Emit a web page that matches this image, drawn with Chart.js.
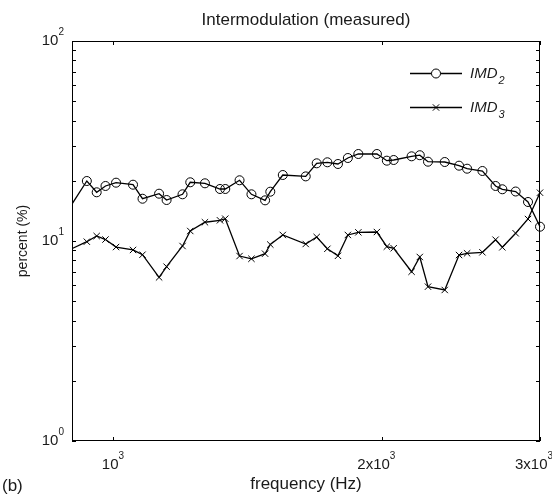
<!DOCTYPE html>
<html>
<head>
<meta charset="utf-8">
<script src="https://cdn.jsdelivr.net/npm/chart.js@4.4.1/dist/chart.umd.min.js"></script>
<style>
  html, body { margin: 0; padding: 0; background: #fff; }
</style>
</head>
<body>
<canvas id="chart" width="552" height="497"></canvas>
<script>
// Data (frequency in Hz, values in percent)
const frequencies = [888, 935, 959, 981, 1008, 1053, 1079, 1126, 1148, 1196, 1220, 1267, 1317, 1335, 1385, 1428, 1479, 1499, 1548, 1642,
  1689, 1736, 1784, 1830, 1880, 1972, 2023, 2059, 2156, 2202, 2249, 2348, 2436, 2487, 2587, 2676, 2723, 2818, 2909, 3000];
const imd2 = [13.96, 19.95, 17.52, 18.84, 19.57, 19.12, 16.27, 17.24, 16.03, 17.12, 19.66, 19.43, 18.2, 18.2, 20.12, 17.12, 15.97, 17.64, 21.38, 21.04,
  24.46, 24.75, 24.27, 26.0, 27.23, 27.23, 25.21, 25.41, 26.51, 26.85, 24.92, 24.83, 23.8, 22.99, 22.39, 18.84, 18.14, 17.68, 15.67, 11.79];
const imd3 = [8.91, 9.92, 10.59, 10.17, 9.33, 9.02, 8.54, 6.58, 7.44, 9.44, 11.22, 12.41, 12.69, 12.93, 8.41, 8.15, 8.64, 9.6, 10.72, 9.66,
  10.47, 9.14, 8.43, 10.72, 11.05, 11.09, 9.37, 9.2, 7.02, 8.32, 5.91, 5.69, 8.51, 8.68, 8.78, 10.15, 9.3, 10.93, 12.88, 17.44];

// Axis ticks and their labels (base, exponent)
const xTicks = [1000, 2000, 3000];
const xTickLabels = [['10', '3'], ['2x10', '3'], ['3x10', '3']];
const yTicks = [1, 10, 100];
const yTickLabels = [['10', '0'], ['10', '1'], ['10', '2']];
const seriesNames = [['IMD', '2'], ['IMD', '3']];
const titleText = 'Intermodulation (measured)';

const FONT = '"Liberation Sans", Arial, Helvetica, sans-serif';
const INK = '#1a1a1a';

// Frame, inward ticks, tick labels, legend, title and panel tag (MATLAB look)
const matlabAxes = {
  id: 'matlabAxes',
  afterDatasetsDraw(chart) {
    const { ctx, chartArea: a, scales: { x, y } } = chart;
    ctx.save();
    ctx.strokeStyle = '#000';
    ctx.lineWidth = 1;
    ctx.strokeRect(a.left + 0.5, a.top + 0.5, a.right - a.left - 1, a.bottom - a.top - 1);

    // y ticks: minor 2..9 per decade plus the major ones
    const tl = 4;
    ctx.beginPath();
    [1, 10].forEach(d => {
      for (let k = 1; k <= 9; k++) {
        const py = Math.round(y.getPixelForValue(k * d)) + 0.5;
        ctx.moveTo(a.left, py); ctx.lineTo(a.left + tl, py);
        ctx.moveTo(a.right, py); ctx.lineTo(a.right - tl, py);
      }
    });
    xTicks.forEach(v => {
      const px = Math.round(x.getPixelForValue(v)) + 0.5;
      ctx.moveTo(px, a.bottom); ctx.lineTo(px, a.bottom - tl);
      ctx.moveTo(px, a.top); ctx.lineTo(px, a.top + tl);
    });
    ctx.stroke();

    ctx.fillStyle = INK;
    ctx.textBaseline = 'middle';
    ctx.textAlign = 'left';
    const base = '15px ' + FONT, sup = '10px ' + FONT;

    // y tick labels
    yTicks.forEach((v, i) => {
      const py = y.getPixelForValue(v);
      const [b, e] = yTickLabels[i];
      ctx.font = sup; const we = ctx.measureText(e).width;
      ctx.font = base; const wb = ctx.measureText(b).width;
      const right = a.left - 8;
      ctx.fillText(b, right - we - wb, py);
      ctx.font = sup; ctx.fillText(e, right - we, py - 9);
    });

    // x tick labels
    xTicks.forEach((v, i) => {
      const px = x.getPixelForValue(v);
      const [b, e] = xTickLabels[i];
      ctx.font = sup; const we = ctx.measureText(e).width;
      ctx.font = base; const wb = ctx.measureText(b).width;
      const left = px - (wb + we) / 2 - (i > 0 ? 6 : 0);
      ctx.fillText(b, left, a.bottom + 24);
      ctx.font = sup; ctx.fillText(e, left + wb, a.bottom + 15);
    });

    // legend inside the axes, top right
    const rows = [a.top + 32, a.top + 66];
    chart.data.datasets.forEach((ds, i) => {
      const ly = rows[i] + 0.5;
      ctx.strokeStyle = '#000';
      ctx.lineWidth = ds.borderWidth;
      ctx.beginPath(); ctx.moveTo(410, ly); ctx.lineTo(462, ly); ctx.stroke();
      ctx.lineWidth = 1;
      ctx.fillStyle = '#fff';
      Chart.helpers.drawPoint(ctx, { pointStyle: ds.pointStyle, radius: ds.pointRadius, borderWidth: 1 }, 436, ly);
      ctx.fillStyle = INK;
      const [n, s] = seriesNames[i];
      ctx.font = 'italic 15px ' + FONT;
      ctx.fillText(n, 470, ly);
      const wn = ctx.measureText(n).width;
      ctx.font = 'italic 11px ' + FONT;
      ctx.fillText(s, 470 + wn + 1, ly + 7);
    });

    // title centred over the axes
    ctx.textAlign = 'center';
    ctx.font = '17px ' + FONT;
    ctx.fillText(titleText, (a.left + a.right) / 2, 20);

    // panel tag
    ctx.textAlign = 'left';
    ctx.font = '17px ' + FONT;
    ctx.fillText('(b)', 2, 486);
    ctx.restore();
  }
};

const clipArea = { left: 0, top: 0, right: 8, bottom: 0 };

new Chart(document.getElementById('chart'), {
  type: 'line',
  data: {
    datasets: [
      {
        label: 'IMD2',
        data: frequencies.map((f, i) => ({ x: f, y: imd2[i] })),
        borderColor: '#000',
        borderWidth: 1.3,
        pointStyle: 'circle',
        pointRadius: 4.5,
        pointBorderColor: '#000',
        pointBackgroundColor: 'rgba(0,0,0,0)',
        pointBorderWidth: 1,
        tension: 0,
        clip: clipArea
      },
      {
        label: 'IMD3',
        data: frequencies.map((f, i) => ({ x: f, y: imd3[i] })),
        borderColor: '#000',
        borderWidth: 1.3,
        pointStyle: 'crossRot',
        pointRadius: 4.5,
        pointBorderColor: '#000',
        pointBorderWidth: 1,
        tension: 0,
        clip: clipArea
      }
    ]
  },
  options: {
    responsive: false,
    animation: false,
    devicePixelRatio: 1,
    layout: { padding: { left: 0, right: 12, top: 41, bottom: 0 } },
    plugins: {
      legend: { display: false },
      tooltip: { enabled: false },
      title: { display: false }
    },
    scales: {
      x: {
        type: 'logarithmic',
        min: 900,
        max: 3000,
        grid: { display: false },
        border: { display: false },
        ticks: { display: false },
        afterBuildTicks: s => { s.ticks = xTicks.map(v => ({ value: v })); },
        afterFit: s => { s.height = 56; },
        title: {
          display: true,
          text: 'frequency (Hz)',
          color: INK,
          font: { family: FONT, size: 17 },
          padding: { top: 0, bottom: 2 }
        }
      },
      y: {
        type: 'logarithmic',
        min: 1,
        max: 100,
        grid: { display: false },
        border: { display: false },
        ticks: { display: false },
        afterFit: s => { s.width = 72; },
        title: {
          display: true,
          text: 'percent (%)',
          color: INK,
          font: { family: FONT, size: 14 },
          padding: { top: 15, bottom: 0 }
        }
      }
    }
  },
  plugins: [matlabAxes]
});
</script>
</body>
</html>
